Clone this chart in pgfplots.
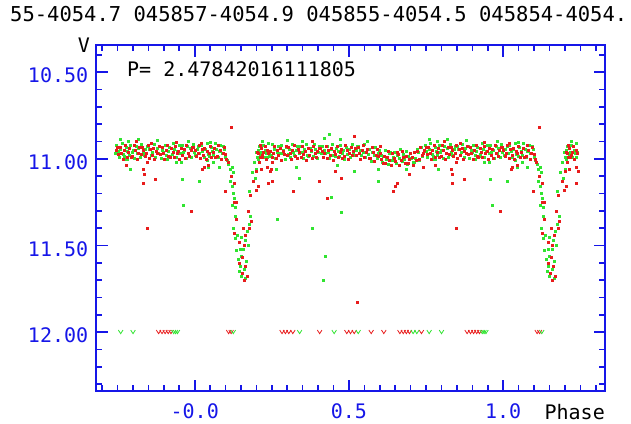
\documentclass[border=0pt]{standalone}
\usepackage{fontspec}
\usepackage{pgfplots}
\usepackage{pgfplotstable}
\pgfplotsset{compat=1.18}
\newfontfamily\mono{DejaVu Sans Mono}
\definecolor{axblue}{RGB}{22,22,232}
\definecolor{ptred}{RGB}{232,28,28}
\definecolor{ptgreen}{RGB}{48,228,48}
\pgfdeclareplotmark{vlim}{%
  \pgfpathmoveto{\pgfqpoint{-2.3pt}{2pt}}%
  \pgfpathlineto{\pgfqpoint{0pt}{-1.6pt}}%
  \pgfpathlineto{\pgfqpoint{2.3pt}{2pt}}%
  \pgfusepathqstroke}

% phase -0.26 .. 0.24 (plotted also at phase+1)
\pgfplotstableread[row sep=\\]{x y\\
-0.258 10.967\\ -0.254 10.924\\ -0.249 10.959\\ -0.245 10.993\\ -0.240 10.943\\ -0.236 10.913\\ -0.231 10.976\\ -0.227 10.985\\ -0.222 10.935\\ -0.218 10.955\\
-0.213 10.982\\ -0.209 10.920\\ -0.204 10.964\\ -0.200 10.949\\ -0.195 10.998\\ -0.191 10.930\\ -0.186 10.971\\ -0.182 10.940\\ -0.177 10.989\\ -0.173 10.915\\
-0.168 10.961\\ -0.164 10.979\\ -0.159 10.946\\ -0.155 10.927\\ -0.150 10.927\\ -0.146 10.946\\ -0.141 10.979\\ -0.137 10.961\\ -0.132 10.915\\ -0.128 10.989\\
-0.123 10.940\\ -0.119 10.971\\ -0.114 10.930\\ -0.110 10.998\\ -0.105 10.949\\ -0.101 10.964\\ -0.096 10.920\\ -0.092 10.982\\ -0.087 10.955\\ -0.083 10.935\\
-0.078 10.985\\ -0.074 10.976\\ -0.069 10.913\\ -0.065 10.943\\ -0.060 10.993\\ -0.056 10.959\\ -0.051 10.924\\ -0.047 10.967\\ -0.042 10.920\\ -0.038 10.964\\
-0.033 10.949\\ -0.029 10.998\\ -0.024 10.930\\ -0.020 10.971\\ -0.015 10.940\\ -0.011 10.989\\ -0.006 10.915\\ -0.002 10.961\\ 0.003 10.979\\ 0.007 10.946\\
0.012 10.927\\ 0.016 10.967\\ 0.021 10.924\\ 0.025 10.959\\ 0.030 10.993\\ 0.034 10.943\\ 0.039 10.913\\ 0.043 10.976\\ 0.048 10.985\\ 0.052 10.935\\
0.057 10.955\\ 0.061 10.982\\ 0.066 10.913\\ 0.070 10.943\\ 0.075 10.993\\ 0.079 10.959\\ 0.084 10.924\\ 0.088 10.967\\ 0.093 10.927\\ 0.097 10.946\\
-0.240 10.885\\ -0.182 10.885\\ -0.120 10.895\\ -0.020 10.900\\ 0.050 10.905\\ -0.215 10.900\\ -0.230 11.000\\ -0.090 11.005\\ 0.040 11.010\\
-0.210 11.06\\ -0.220 11.00\\ -0.060 11.02\\ -0.045 11.02\\ -0.042 11.12\\ -0.036 11.27\\ 0.013 11.13\\ 0.045 11.05\\ 0.060 11.02\\ 0.078 11.05\\
0.100 10.99\\ 0.105 11.01\\ 0.110 11.03\\ 0.114 11.06\\ 0.120 11.05\\ 0.124 11.08\\ 0.114 11.13\\ 0.121 11.16\\ 0.124 11.20\\ 0.127 11.23\\
0.120 11.27\\ 0.130 11.28\\ 0.130 11.33\\ 0.124 11.40\\ 0.130 11.46\\ 0.150 11.45\\ 0.163 11.47\\ 0.170 11.42\\ 0.175 11.38\\ 0.134 11.53\\
0.147 11.52\\ 0.150 11.56\\ 0.166 11.59\\ 0.147 11.62\\ 0.160 11.64\\ 0.150 11.68\\ 0.165 11.69\\ 0.176 11.19\\ 0.195 11.11\\ 0.186 11.08\\
0.200 11.06\\ 0.192 11.02\\ 0.205 11.00\\ 0.212 10.97\\ 0.180 11.33\\ 0.140 11.58\\ 0.158 11.52\\ 0.172 11.50\\ 0.137 11.44\\ 0.143 11.65\\
0.205 10.95\\ 0.209 10.93\\ 0.213 10.98\\ 0.217 10.96\\ 0.221 10.92\\ 0.225 10.99\\ 0.229 10.95\\ 0.233 10.97\\ 0.237 10.91\\ 0.240 10.96\\
0.215 10.94\\ 0.227 10.93\\ 0.235 10.99\\ 0.198 10.96\\ 0.201 10.99\\ 0.219 10.90\\
}\greenA

\pgfplotstableread[row sep=\\]{x y\\
-0.256 10.953\\ -0.251 10.934\\ -0.247 10.974\\ -0.242 10.931\\ -0.238 10.966\\ -0.233 11.000\\ -0.229 10.950\\ -0.224 10.920\\ -0.220 10.989\\ -0.215 10.962\\
-0.211 10.942\\ -0.206 10.992\\ -0.202 10.983\\ -0.197 10.920\\ -0.193 10.950\\ -0.188 11.000\\ -0.184 10.966\\ -0.179 10.931\\ -0.175 10.974\\ -0.170 10.934\\
-0.166 10.953\\ -0.161 10.986\\ -0.157 10.968\\ -0.152 10.922\\ -0.148 10.996\\ -0.143 10.947\\ -0.139 10.978\\ -0.134 10.937\\ -0.130 11.005\\ -0.125 10.956\\
-0.121 10.971\\ -0.116 10.927\\ -0.112 10.974\\ -0.107 10.931\\ -0.103 10.966\\ -0.098 11.000\\ -0.094 10.950\\ -0.089 10.920\\ -0.085 10.983\\ -0.080 10.992\\
-0.076 10.942\\ -0.071 10.962\\ -0.067 10.989\\ -0.062 10.927\\ -0.058 10.971\\ -0.053 10.956\\ -0.049 11.005\\ -0.044 10.937\\ -0.040 10.978\\ -0.035 10.947\\
-0.031 10.996\\ -0.026 10.922\\ -0.022 10.968\\ -0.017 10.986\\ -0.013 10.953\\ -0.008 10.934\\ -0.004 10.934\\ 0.001 10.953\\ 0.005 10.986\\ 0.010 10.968\\
0.014 10.922\\ 0.019 10.996\\ 0.023 10.947\\ 0.028 10.978\\ 0.032 10.937\\ 0.037 11.005\\ 0.041 10.956\\ 0.046 10.971\\ 0.050 10.927\\ 0.055 10.989\\
0.059 10.962\\ 0.064 10.942\\ 0.068 10.992\\ 0.073 10.983\\ 0.077 10.920\\ 0.082 10.950\\ 0.086 11.000\\ 0.091 10.966\\ 0.095 10.931\\ 0.100 10.974\\
-0.190 10.900\\ -0.060 10.905\\ 0.020 10.910\\ -0.140 10.910\\
-0.222 11.04\\ -0.168 11.06\\ -0.165 11.09\\ -0.166 11.14\\ -0.127 11.12\\ -0.153 11.02\\ -0.153 11.40\\ -0.010 11.30\\ 0.025 11.06\\ 0.030 11.05\\
0.045 11.04\\ 0.117 10.82\\ 0.098 11.19\\ 0.238 11.14\\ 0.244 11.07\\ 0.235 11.05\\
0.103 11.00\\ 0.108 11.02\\ 0.117 11.10\\ 0.127 11.14\\ 0.127 11.25\\ 0.133 11.25\\ 0.134 11.35\\ 0.128 11.43\\ 0.160 11.50\\ 0.165 11.44\\
0.182 11.36\\ 0.178 11.40\\ 0.155 11.57\\ 0.145 11.60\\ 0.163 11.62\\ 0.153 11.66\\ 0.160 11.70\\ 0.170 11.68\\ 0.179 11.21\\ 0.198 11.18\\
0.205 11.16\\ 0.190 11.13\\ 0.200 11.07\\ 0.215 11.06\\ 0.208 11.02\\ 0.172 11.30\\ 0.145 11.48\\ 0.157 11.40\\ 0.218 10.99\\
0.207 10.97\\ 0.211 10.99\\ 0.215 10.94\\ 0.219 10.98\\ 0.223 10.96\\ 0.227 10.93\\ 0.231 11.00\\ 0.235 10.95\\ 0.239 10.97\\ 0.212 10.92\\ 0.203 10.96\\
}\redA

% phase 0.24 .. 0.74
\pgfplotstableread[row sep=\\]{x y\\
0.243 10.988\\ 0.248 10.979\\ 0.252 10.916\\ 0.257 10.946\\ 0.261 10.996\\ 0.266 10.962\\ 0.270 10.927\\ 0.275 10.970\\ 0.279 10.923\\ 0.284 10.967\\
0.288 10.952\\ 0.293 11.001\\ 0.297 10.933\\ 0.302 10.974\\ 0.306 10.943\\ 0.311 10.992\\ 0.315 10.918\\ 0.320 10.964\\ 0.324 10.982\\ 0.329 10.949\\
0.333 10.930\\ 0.338 10.970\\ 0.342 10.927\\ 0.347 10.962\\ 0.351 10.996\\ 0.356 10.946\\ 0.360 10.916\\ 0.365 10.979\\ 0.369 10.988\\ 0.374 10.938\\
0.378 10.958\\ 0.383 10.985\\ 0.387 10.916\\ 0.392 10.946\\ 0.396 10.996\\ 0.401 10.962\\ 0.405 10.927\\ 0.410 10.970\\ 0.414 10.930\\ 0.419 10.949\\
0.423 10.970\\ 0.428 10.927\\ 0.432 10.962\\ 0.437 10.996\\ 0.441 10.946\\ 0.446 10.916\\ 0.450 10.979\\ 0.455 10.988\\ 0.459 10.938\\ 0.464 10.958\\
0.468 10.985\\ 0.473 10.923\\ 0.477 10.967\\ 0.482 10.952\\ 0.486 11.001\\ 0.491 10.933\\ 0.495 10.974\\ 0.500 10.943\\ 0.504 10.992\\ 0.509 10.918\\
0.513 10.964\\ 0.518 10.982\\ 0.522 10.949\\ 0.527 10.930\\ 0.531 10.930\\ 0.536 10.949\\ 0.540 10.982\\ 0.545 10.964\\ 0.549 10.918\\ 0.554 10.992\\
0.558 10.943\\ 0.563 10.974\\ 0.567 10.945\\ 0.572 11.013\\ 0.576 10.964\\ 0.581 10.979\\ 0.585 10.935\\ 0.590 10.997\\ 0.594 10.970\\ 0.599 10.950\\
0.603 10.978\\ 0.608 11.021\\ 0.612 10.986\\ 0.617 10.952\\ 0.621 11.002\\ 0.626 11.032\\ 0.630 10.969\\ 0.635 10.960\\ 0.639 11.010\\ 0.644 10.990\\
0.648 10.963\\ 0.653 11.025\\ 0.657 10.981\\ 0.662 10.996\\ 0.666 10.947\\ 0.671 11.015\\ 0.675 10.974\\ 0.680 11.005\\ 0.684 10.956\\ 0.689 11.030\\
0.693 10.984\\ 0.698 10.966\\ 0.702 10.999\\ 0.707 11.018\\ 0.711 11.018\\ 0.716 10.999\\ 0.720 10.946\\ 0.725 10.964\\ 0.729 11.010\\ 0.734 10.936\\ 0.738 10.985\\
0.300 10.895\\ 0.437 10.86\\ 0.420 10.88\\ 0.470 10.89\\ 0.560 10.90\\ 0.350 10.90\\
0.264 11.06\\ 0.267 11.35\\ 0.329 11.05\\ 0.339 11.11\\ 0.381 11.40\\ 0.417 11.70\\ 0.423 11.56\\ 0.443 11.22\\ 0.463 11.04\\ 0.475 11.31\\
0.518 11.07\\ 0.596 11.06\\ 0.596 11.13\\ 0.687 11.06\\
}\greenB

\pgfplotstableread[row sep=\\]{x y\\
0.245 10.956\\ 0.250 10.989\\ 0.254 10.971\\ 0.259 10.925\\ 0.263 10.999\\ 0.268 10.950\\ 0.272 10.981\\ 0.277 10.940\\ 0.281 11.008\\ 0.286 10.959\\
0.290 10.974\\ 0.295 10.930\\ 0.299 10.977\\ 0.304 10.934\\ 0.308 10.969\\ 0.313 11.003\\ 0.317 10.953\\ 0.322 10.923\\ 0.326 10.986\\ 0.331 10.995\\
0.335 10.945\\ 0.340 10.965\\ 0.344 10.992\\ 0.349 10.930\\ 0.353 10.974\\ 0.358 10.959\\ 0.362 11.008\\ 0.367 10.940\\ 0.371 10.981\\ 0.376 10.950\\
0.380 10.999\\ 0.385 10.925\\ 0.389 10.971\\ 0.394 10.989\\ 0.398 10.956\\ 0.403 10.937\\ 0.407 10.937\\ 0.412 10.956\\ 0.416 10.989\\ 0.421 10.971\\
0.425 10.925\\ 0.430 10.999\\ 0.434 10.950\\ 0.439 10.981\\ 0.443 10.940\\ 0.448 11.008\\ 0.452 10.959\\ 0.457 10.974\\ 0.461 10.930\\ 0.466 10.992\\
0.470 10.965\\ 0.475 10.945\\ 0.479 10.995\\ 0.484 10.986\\ 0.488 10.923\\ 0.493 10.953\\ 0.497 11.003\\ 0.502 10.969\\ 0.506 10.934\\ 0.511 10.977\\
0.515 10.956\\ 0.520 10.937\\ 0.524 10.977\\ 0.529 10.934\\ 0.533 10.969\\ 0.538 11.003\\ 0.542 10.953\\ 0.547 10.923\\ 0.551 10.992\\ 0.556 10.965\\
0.560 10.945\\ 0.565 10.995\\ 0.569 10.996\\ 0.574 10.933\\ 0.578 10.963\\ 0.583 11.013\\ 0.587 10.979\\ 0.592 10.944\\ 0.596 10.987\\ 0.601 10.967\\
0.605 11.004\\ 0.610 11.023\\ 0.614 10.983\\ 0.619 11.026\\ 0.623 10.991\\ 0.628 10.957\\ 0.632 11.007\\ 0.637 11.037\\ 0.641 10.968\\ 0.646 10.995\\
0.650 11.015\\ 0.655 10.965\\ 0.659 10.974\\ 0.664 11.037\\ 0.668 11.007\\ 0.673 10.957\\ 0.677 10.991\\ 0.682 11.026\\ 0.686 10.983\\ 0.691 11.023\\
0.695 11.004\\ 0.700 10.971\\ 0.704 10.989\\ 0.709 11.035\\ 0.713 10.961\\ 0.718 11.010\\ 0.722 10.959\\ 0.727 11.000\\ 0.731 10.932\\ 0.736 10.981\\ 0.740 10.966\\
0.250 11.13\\ 0.247 11.06\\ 0.250 11.02\\ 0.320 11.19\\ 0.404 11.13\\ 0.430 11.23\\ 0.456 11.07\\ 0.475 11.11\\ 0.518 10.87\\ 0.528 11.83\\
0.642 11.19\\ 0.650 11.16\\ 0.655 11.14\\ 0.694 11.09\\ 0.740 11.05\\ 0.380 10.90\\ 0.600 10.93\\
}\redB

% upper limits (12.00)
\pgfplotstableread[row sep=\\]{x y\\ -0.117 12\\ -0.106 12\\ -0.096 12\\ -0.086 12\\ -0.077 12\\ 0.110 12\\ 0.118 12\\}\limRedA
\pgfplotstableread[row sep=\\]{x y\\ -0.240 12\\ -0.200 12\\ -0.068 12\\ -0.062 12\\ -0.056 12\\ 0.125 12\\}\limGreenA
\pgfplotstableread[row sep=\\]{x y\\ 0.283 12\\ 0.294 12\\ 0.305 12\\ 0.318 12\\ 0.405 12\\ 0.493 12\\ 0.505 12\\ 0.517 12\\ 0.572 12\\ 0.613 12\\ 0.665 12\\ 0.676 12\\ 0.686 12\\ 0.696 12\\ 0.735 12\\}\limRedB
\pgfplotstableread[row sep=\\]{x y\\ 0.340 12\\ 0.452 12\\ 0.530 12\\ 0.708 12\\ 0.720 12\\}\limGreenB

\begin{document}
\begin{tikzpicture}
\begin{axis}[
  scale only axis, width=509pt, height=346pt,
  xmin=-0.32, xmax=1.33, ymin=10.344, ymax=12.34, y dir=reverse,
  axis line style={draw=axblue, line width=1.8pt},
  tick style={draw=axblue, line width=1.6pt},
  major tick length=11.5pt, minor tick length=6pt,
  tick align=inside,
  xtick={0,0.5,1}, xticklabels={-0.0,0.5,1.0},
  ytick={10.5,11,11.5,12}, yticklabels={10.50,11.00,11.50,12.00},
  minor xtick={-0.30,-0.25,-0.20,-0.15,-0.10,-0.05,0.05,0.10,0.15,0.20,0.25,0.30,0.35,0.40,0.45,0.55,0.60,0.65,0.70,0.75,0.80,0.85,0.90,0.95,1.05,1.10,1.15,1.20,1.25,1.30},
  minor ytick={10.4,10.6,10.7,10.8,10.9,11.1,11.2,11.3,11.4,11.6,11.7,11.8,11.9,12.1,12.2,12.3},
  xticklabel style={font=\fontsize{20}{24}\mono, text=axblue, anchor=base, yshift=-27pt},
  yticklabel style={font=\fontsize{20}{24}\mono, text=axblue, xshift=-4.3pt, yshift=-3.5pt},
  every axis plot/.append style={only marks, mark=square*, mark size=1pt},
]
\addplot[ptgreen] table[x=x, y=y]{\greenA};
\addplot[ptgreen] table[x expr=\thisrow{x}+1, y=y]{\greenA};
\addplot[ptgreen] table[x=x, y=y]{\greenB};
\addplot[ptred] table[x=x, y=y]{\redA};
\addplot[ptred] table[x expr=\thisrow{x}+1, y=y]{\redA};
\addplot[ptred] table[x=x, y=y]{\redB};
\addplot[ptred, mark=vlim, line width=0.8pt] table[x=x, y=y]{\limRedA};
\addplot[ptred, mark=vlim, line width=0.8pt] table[x expr=\thisrow{x}+1, y=y]{\limRedA};
\addplot[ptred, mark=vlim, line width=0.8pt] table[x=x, y=y]{\limRedB};
\addplot[ptgreen, mark=vlim, line width=0.8pt] table[x=x, y=y]{\limGreenA};
\addplot[ptgreen, mark=vlim, line width=0.8pt] table[x expr=\thisrow{x}+1, y=y]{\limGreenA};
\addplot[ptgreen, mark=vlim, line width=0.8pt] table[x=x, y=y]{\limGreenB};
\end{axis}
\node[anchor=base, font=\fontsize{20}{24}\mono, inner sep=0pt] at ([shift={(-12pt,-8pt)}]current axis.north west) {V};
\node[anchor=base west, font=\fontsize{20}{24}\mono, inner sep=0pt] at ([shift={(31pt,-32pt)}]current axis.north west) {P= 2.47842016111805};
\node[anchor=base east, font=\fontsize{20}{24}\mono, inner sep=0pt] at ([shift={(0pt,-28pt)}]current axis.south east) {Phase};
\node[anchor=base west, font=\fontsize{20.5}{24}\mono, inner sep=0pt] at ([shift={(-86pt,23pt)}]current axis.north west) {55-4054.7 045857-4054.9 045855-4054.5 045854-4054.};
\pgfresetboundingbox
\path ([shift={(-96pt,-32pt)}]current axis.south west) rectangle ([shift={(26pt,45pt)}]current axis.north east);
\end{tikzpicture}
\end{document}
